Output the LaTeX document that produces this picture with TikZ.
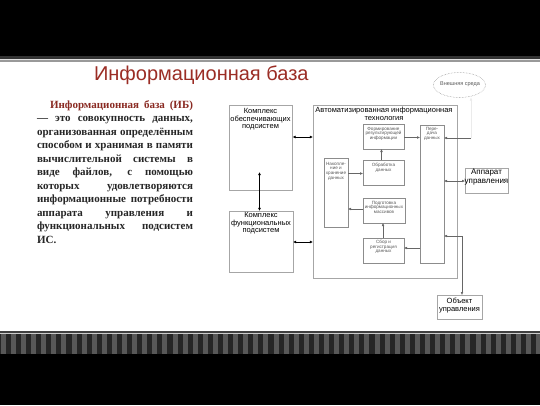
\documentclass[tikz,border=0pt]{standalone}
\usepackage{fontspec}
\setmainfont{Liberation Serif}
\newfontfamily\arialf{Liberation Sans}
\usetikzlibrary{arrows.meta,shapes.geometric}
\definecolor{titred}{HTML}{9B2D25}
\definecolor{parred}{HTML}{8A2A22}
\definecolor{partxt}{HTML}{262626}
\definecolor{stripeA}{HTML}{262626}
\definecolor{stripeB}{HTML}{585858}
\begin{document}
\begin{tikzpicture}[x=1pt,y=-1pt,
  every node/.style={inner sep=0pt, outer sep=0pt},
  frame/.style={draw=black!35, line width=0.5pt, fill=white, anchor=north west},
  ibox/.style={draw=black!45, line width=0.4pt, fill=white, anchor=north west},
  bigt/.style={font=\arialf\fontsize{7.5}{7.6}\selectfont, align=center, text=black},
  smallt/.style={font=\arialf\fontsize{4.6}{4.7}\selectfont, align=center, text=black!65},
  para/.style={font=\fontsize{11}{13.5}\selectfont\bfseries, text=partxt, anchor=base west},
  arr/.style={-{Latex[length=3pt,width=2.6pt]}, line width=0.4pt, draw=black!60},
  darr/.style={{Latex[length=3pt,width=2.6pt]}-{Latex[length=3pt,width=2.6pt]}, line width=0.4pt, draw=black!60},
  barr/.style={{Latex[length=3.2pt,width=3pt]}-{Latex[length=3.2pt,width=3pt]}, line width=1pt, draw=black},
]
\useasboundingbox (0,0) rectangle (540,405);
% background
\fill[black] (0,0) rectangle (540,405);
\fill[black!80] (0,56) rectangle (540,59);
\fill[black!12] (0,59) rectangle (540,60);
\fill[black!40] (0,60) rectangle (540,62);
\fill[white] (0,62) rectangle (540,331);
\fill[black!75] (0,331) rectangle (540,332.5);
\fill[black!20] (0,332.5) rectangle (540,334);
\fill[stripeA] (0,334) rectangle (540,354);
\foreach \i in {0,...,53} \fill[stripeB] (\i*10.1+0.8,334) rectangle +(5,20);

% title
\node[anchor=base west, font=\arialf\fontsize{20}{24}\selectfont, text=titred] (title) at (94,80) {Информационная база};

% paragraph
\node[para, text=parred] (p1) at (50,108) {\makebox[143pt][s]{Информационная база (ИБ)}};
\node[para] (p2) at (37,121.5) {\makebox[156pt][s]{— это совокупность данных,}};
\node[para] (p3) at (37,135) {\makebox[156pt][s]{организованная определённым}};
\node[para] (p4) at (37,148.5) {\makebox[156pt][s]{способом и хранимая в памяти}};
\node[para] (p5) at (37,162) {\makebox[156pt][s]{вычислительной системы в}};
\node[para] (p6) at (37,175.5) {\makebox[156pt][s]{виде файлов, с помощью}};
\node[para] (p7) at (37,189) {\makebox[156pt][s]{которых удовлетворяются}};
\node[para] (p8) at (37,202.5) {\makebox[156pt][s]{информационные потребности}};
\node[para] (p9) at (37,216) {\makebox[156pt][s]{аппарата управления и}};
\node[para] (p10) at (37,229.5) {\makebox[156pt][s]{функциональных подсистем}};
\node[para] (p11) at (37,243) {ИС.};

% boxes
\node[frame, minimum width=63.5pt, minimum height=84.5pt] (kos) at (229,105.5) {};
\node[frame, minimum width=64pt, minimum height=61pt] (kfs) at (229,211) {};
\node[frame, minimum width=144pt, minimum height=172.5pt] (aib) at (313,105.5) {};
\node[ibox, minimum width=41pt, minimum height=25pt] (form) at (363,124) {};
\node[ibox, minimum width=41pt, minimum height=25pt] (obr) at (363,160) {};
\node[ibox, minimum width=24pt, minimum height=69pt] (nak) at (324,158) {};
\node[ibox, minimum width=42pt, minimum height=25pt] (podg) at (363,198) {};
\node[ibox, minimum width=41pt, minimum height=25pt] (sbor) at (363,238) {};
\node[ibox, minimum width=24pt, minimum height=138pt] (per) at (420,125) {};
\node[frame, minimum width=43pt, minimum height=25pt] (app) at (465,168) {};
\node[frame, minimum width=45pt, minimum height=24.5pt] (obj) at (437,295) {};
\node[ellipse, draw=black!45, densely dotted, line width=0.5pt, minimum width=52pt, minimum height=25pt] (env) at (459.5,85) {};

% texts
\node[bigt, anchor=north] (kost) at (260.5,108.5) {Комплекс\\обеспечивающих\\подсистем};
\node[bigt, anchor=north] (kfst) at (261,212.5) {Комплекс\\функциональных\\подсистем};
\node[bigt, anchor=north] (aibt) at (384,107.5) {Автоматизированная информационная\\технология};
\node[smallt, anchor=north] (formt) at (383.5,127) {Формирование\\результирующей\\информации};
\node[smallt, anchor=north] (obrt) at (383.5,163) {Обработка\\данных};
\node[smallt, anchor=north] (nakt) at (336,162) {Накопле-\\ние и\\хранение\\данных};
\node[smallt, anchor=north] (podgt) at (384,201) {Подготовка\\информационных\\массивов};
\node[smallt, anchor=north] (sbort) at (383.5,240) {Сбор и\\регистрация\\данных};
\node[smallt, anchor=north] (pert) at (432,127) {Пере-\\дача\\данных};
\node[bigt, font=\arialf\fontsize{8}{9}\selectfont] (appt) at (486.5,177.5) {Аппарат\\управления};
\node[bigt] (objt) at (459.5,305.5) {Объект\\управления};
\node[smallt, font=\arialf\fontsize{5.5}{6}\selectfont] (envt) at (460,84.5) {Внешняя среда};

% connectors
\coordinate (ext) at (471,138);
\coordinate (kup) at (259.5,172);
\draw[barr] (kos.east |- 0,137) -- (aib.west |- 0,137);
\draw[barr] (kfs.east |- 0,242) -- (aib.west |- 0,242);
\draw[barr] (kup) -- (kfs.north -| kup);
\draw[arr] (obr.north -| 381.5,0) -- (form.south -| 381.5,0);
\draw[arr] (nak.east |- 0,173.5) -- (obr.west |- 0,173.5);
\draw[arr] (form.east |- 0,137.5) -- (per.west |- 0,137.5);
\draw[arr] (podg.west |- 0,209) -- (nak.east |- 0,209);
\draw[arr] (sbor.north -| 383,0) -- (podg.south -| 383,0);
\draw[arr] (per.west |- 0,248) -- (sbor.east |- 0,248);
\draw[arr] (ext) -- (per.east |- ext);
\draw[arr, draw=black!8] (ext) -- (env.south -| ext);
\draw[darr] (per.east |- 0,181) -- (app.west |- 0,181);
\draw[darr] (per.east |- 0,236) -| (obj.north -| 462,0);
\end{tikzpicture}
\end{document}
